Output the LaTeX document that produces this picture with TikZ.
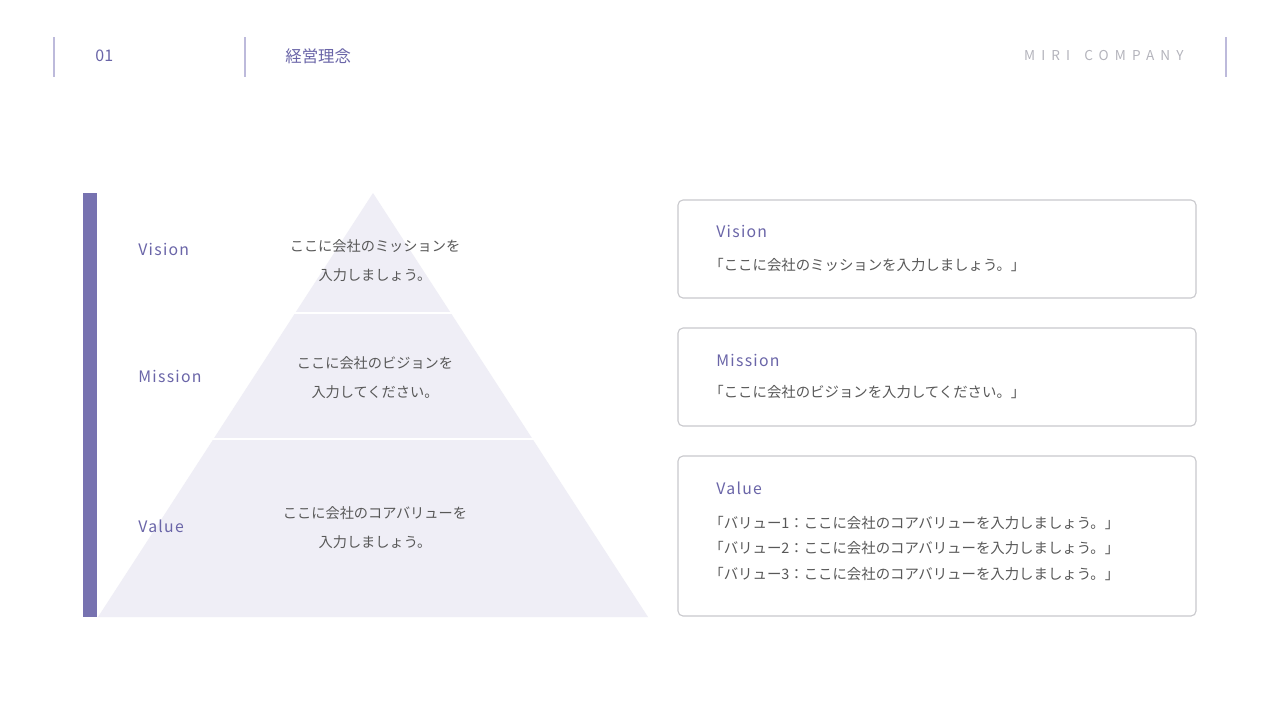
\documentclass[tikz,border=0pt]{standalone}
\usepackage{fontspec}
\setmainfont{Noto Sans CJK JP}
\newfontfamily\lblfont[LetterSpace=8]{Noto Sans CJK JP}
\newfontfamily\brandfont[LetterSpace=45]{Noto Sans CJK JP}
\definecolor{miripurple}{HTML}{6A65A8}
\definecolor{miribar}{HTML}{7772B0}
\definecolor{mirirule}{HTML}{BDBADB}
\definecolor{mirigray}{HTML}{585858}
\definecolor{mirifill}{HTML}{EFEEF6}
\definecolor{miriframe}{HTML}{C9C9CD}
\definecolor{mirilight}{HTML}{B4B4BC}
\tikzset{
	lbl/.style={anchor=west, inner sep=0, text=miripurple, font=\lblfont\fontsize{7.9}{10}\selectfont},
	pyrtxt/.style={align=center, inner sep=0, text=mirigray, font=\fontsize{7.1}{14.5}\selectfont},
	cardbox/.style={draw=miriframe, line width=0.55pt, rounded corners=2.5pt},
	cardtxt/.style={anchor=west, align=left, inner sep=0, text=mirigray, font=\fontsize{7.2}{12.75}\selectfont}
}
\begin{document}
\begin{tikzpicture}[x=0.5pt, y=-0.5pt]
	\useasboundingbox[fill=white] (0,0) rectangle (1280,720);
	\draw[mirirule, line width=1pt] (54,37) -- (54,77);
	\draw[mirirule, line width=1pt] (245,37) -- (245,77);
	\draw[mirirule, line width=1pt] (1226,37) -- (1226,77);
	\node[anchor=west, inner sep=0, text=miripurple, font=\fontsize{8}{10}\selectfont] (num) at (95,56) {01};
	\node[anchor=west, inner sep=0, text=miripurple, font=\fontsize{8.2}{10}\selectfont] (title) at (285,56) {経営理念};
	\node[anchor=east, inner sep=0, text=mirilight, font=\brandfont\fontsize{6.8}{10}\selectfont] (brand) at (1184,56) {MIRI\kern2.5pt\ COMPANY};
	\fill[miribar] (83,193) rectangle (97,617);
	\fill[mirifill] (373,193) -- (648,617) -- (98,617) -- cycle;
	\draw[white, line width=1.2pt] (290,313) -- (456,313);
	\draw[white, line width=1.2pt] (208,439) -- (538,439);
	\node[lbl] (vis-lbl) at (138,249) {Vision};
	\node[lbl] (mis-lbl) at (138,376) {Mission};
	\node[lbl] (val-lbl) at (138,526) {Value};
	\node[pyrtxt] (vis-txt) at (375,260.5) {ここに会社のミッションを\\入力しましょう。};
	\node[pyrtxt] (mis-txt) at (375,377.5) {ここに会社のビジョンを\\入力してください。};
	\node[pyrtxt] (val-txt) at (375,527.5) {ここに会社のコアバリューを\\入力しましょう。};
	\draw[cardbox] (678,200) rectangle (1196,298);
	\draw[cardbox] (678,328) rectangle (1196,426);
	\draw[cardbox] (678,456) rectangle (1196,616);
	\node[lbl] (vis-head) at (716,231) {Vision};
	\node[cardtxt] (vis-body) at (709,265) {「ここに会社のミッションを入力しましょう。」};
	\node[lbl] (mis-head) at (716,360) {Mission};
	\node[cardtxt] (mis-body) at (709,392) {「ここに会社のビジョンを入力してください。」};
	\node[lbl] (val-head) at (716,488) {Value};
	\node[cardtxt] (val-body) at (709,548.5) {「バリュー1：ここに会社のコアバリューを入力しましょう。」\\「バリュー2：ここに会社のコアバリューを入力しましょう。」\\「バリュー3：ここに会社のコアバリューを入力しましょう。」};
\end{tikzpicture}
\end{document}
